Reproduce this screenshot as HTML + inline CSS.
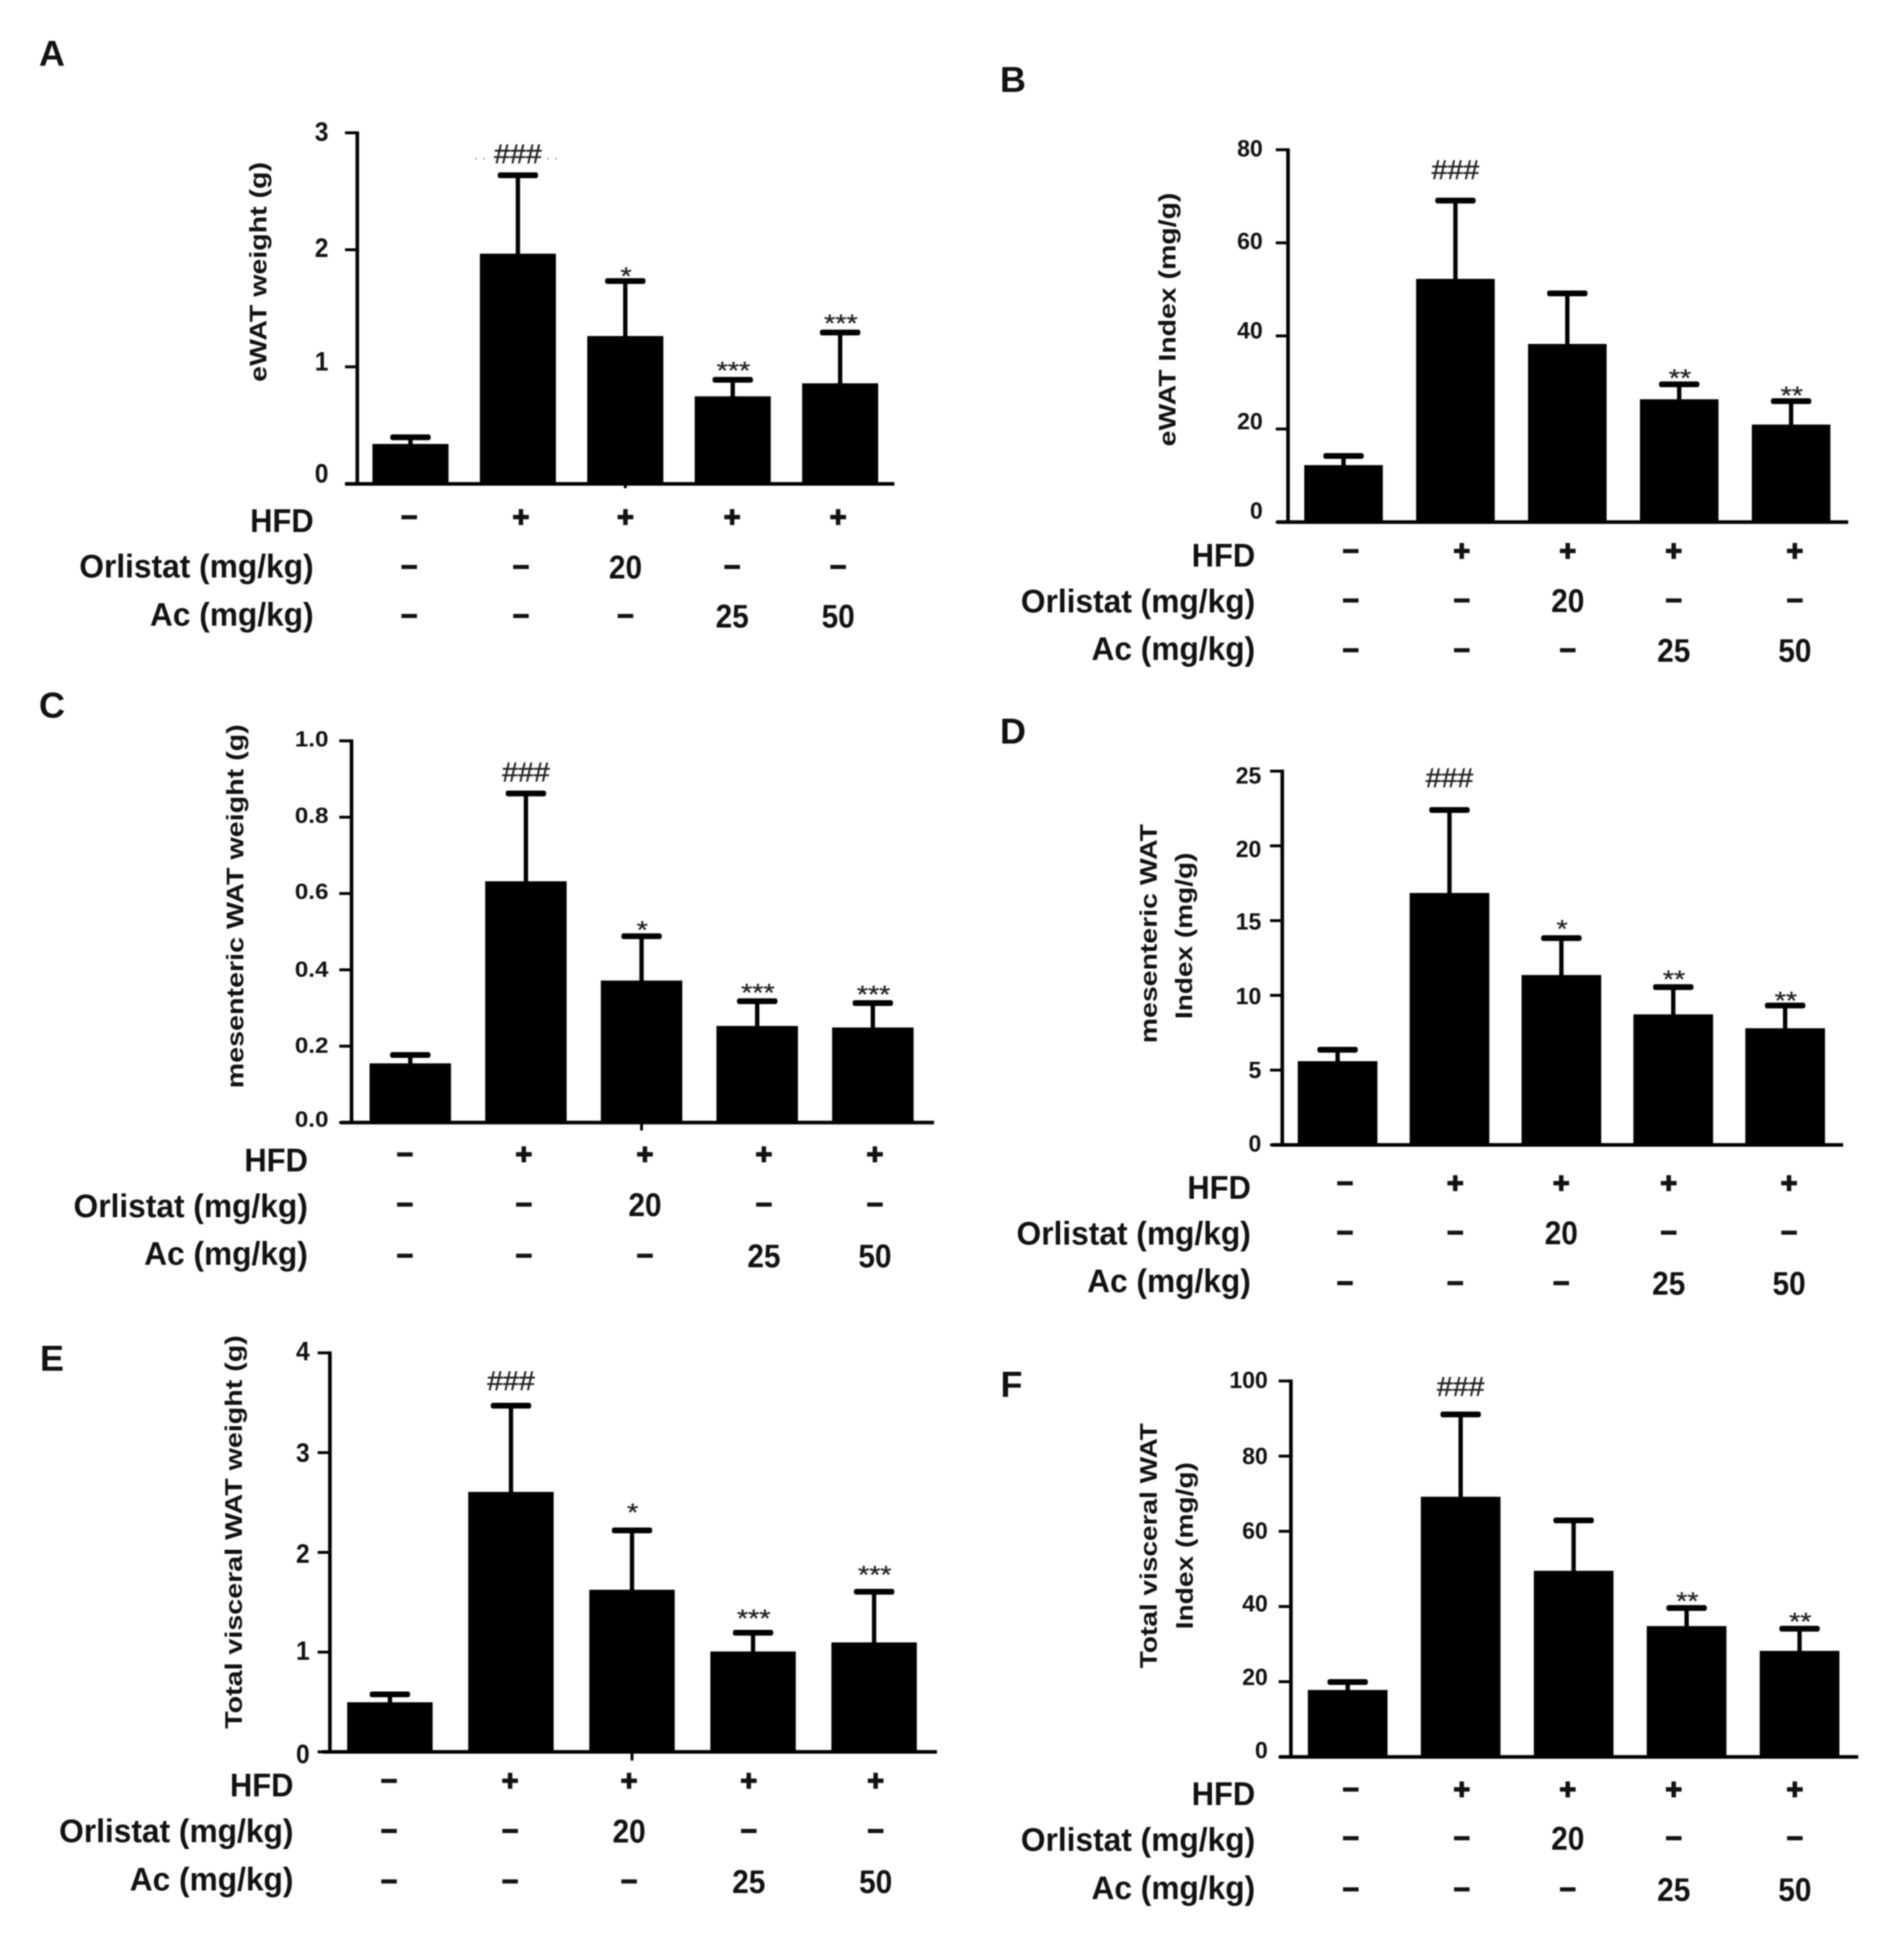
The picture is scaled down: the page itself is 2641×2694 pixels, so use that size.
<!DOCTYPE html>
<html lang="en">
<head>
<meta charset="utf-8">
<title>WAT weight and index bar charts</title>
<style>
html,body{margin:0;padding:0;background:#fff;}
#figure{display:block;width:2641px;height:2694px;filter:blur(0.7px);}
text{font-family:"Liberation Sans",Arial,sans-serif;fill:#111;}
</style>
</head>
<body>
<svg id="figure" xmlns="http://www.w3.org/2000/svg" width="2641" height="2694" viewBox="0 0 2641 2694"></svg>
<script>
const rowHfd = ['–', '+', '+', '+', '+'];
const rowOrlistat = ['–', '–', '20', '–', '–'];
const rowAc = ['–', '–', '–', '25', '50'];

const panelAValues = [0.341, 1.967, 1.263, 0.748, 0.859];
const panelAErrors = [0.398, 2.637, 1.733, 0.889, 1.293];
const panelATicks = ['0', '1', '2', '3'];
const panelASig = ['', '###', '*', '***', '***'];

const panelBValues = [12.23, 52.25, 38.26, 26.38, 20.94];
const panelBErrors = [14.2, 69.07, 49.13, 29.6, 25.98];
const panelBTicks = ['0', '20', '40', '60', '80'];
const panelBSig = ['', '###', '', '**', '**'];

const panelCValues = [0.155, 0.632, 0.372, 0.253, 0.249];
const panelCErrors = [0.177, 0.862, 0.488, 0.318, 0.313];
const panelCTicks = ['0.0', '0.2', '0.4', '0.6', '0.8', '1.0'];
const panelCSig = ['', '###', '*', '***', '***'];

const panelDValues = [5.6, 16.85, 11.36, 8.73, 7.8];
const panelDErrors = [6.36, 22.4, 13.83, 10.55, 9.32];
const panelDTicks = ['0', '5', '10', '15', '20', '25'];
const panelDSig = ['', '###', '*', '**', '**'];

const panelEValues = [0.497, 2.606, 1.625, 1.006, 1.097];
const panelEErrors = [0.576, 3.47, 2.22, 1.194, 1.605];
const panelETicks = ['0', '1', '2', '3', '4'];
const panelESig = ['', '###', '*', '***', '***'];

const panelFValues = [17.8, 69.2, 49.5, 34.8, 28.2];
const panelFErrors = [19.9, 91.1, 62.9, 39.6, 34.1];
const panelFTicks = ['0', '20', '40', '60', '80', '100'];
const panelFSig = ['', '###', '', '**', '**'];

const panels = [
  {id:'a', letter:'A', values:panelAValues, errors:panelAErrors, ticks:panelATicks, sig:panelASig,
   titles:[{t:'eWAT weight (g)', x:362, y:380, w:305}]},
  {id:'b', letter:'B', values:panelBValues, errors:panelBErrors, ticks:panelBTicks, sig:panelBSig,
   titles:[{t:'eWAT Index (mg/g)', x:1623, y:446, w:352}]},
  {id:'c', letter:'C', values:panelCValues, errors:panelCErrors, ticks:panelCTicks, sig:panelCSig,
   titles:[{t:'mesenteric WAT weight (g)', x:330, y:1260, w:505}]},
  {id:'d', letter:'D', values:panelDValues, errors:panelDErrors, ticks:panelDTicks, sig:panelDSig,
   titles:[{t:'mesenteric WAT', x:1597, y:1298, w:304},{t:'Index (mg/g)', x:1646, y:1301, w:231}]},
  {id:'e', letter:'E', values:panelEValues, errors:panelEErrors, ticks:panelETicks, sig:panelESig,
   titles:[{t:'Total visceral WAT weight (g)', x:328, y:2128, w:546}]},
  {id:'f', letter:'F', values:panelFValues, errors:panelFErrors, ticks:panelFTicks, sig:panelFSig,
   titles:[{t:'Total visceral WAT', x:1597, y:2147, w:340},{t:'Index (mg/g)', x:1647, y:2147, w:232}]}
];

const layouts = {
  a:{axisX:499,top:187,bottom:674,axisStart:482,axisEnd:1244,barLeft:520,barStep:149,barW:105.5,
     rowX:[571,726,871,1019,1166],rowY:[720,789,857],labelY:[726,789,856],labelRight:435,
     tickRight:457,tickSize:37,tickStretch:0.92,tickShift:[-15,-8,-3.3,-2],
     sigGap:[0,30,15,21,21],xTick:6,letterX:72,letterY:75},
  b:{axisX:1790,top:210.5,bottom:727,axisStart:1775,axisEnd:2567,barLeft:1812.5,barStep:155.2,barW:109,
     rowX:[1877,2031,2178,2325,2493],rowY:[767,835.5,904.5],labelY:[774,837.5,903.5],labelRight:1741,
     tickRight:1753,tickSize:32,tickStretch:1.0,tickShift:[-16,-11,-8,-3,-2],
     sigGap:[0,43,0,17,16],xTick:0,letterX:1405,letterY:111},
  c:{axisX:491,top:1030.5,bottom:1560,axisStart:476,axisEnd:1299,barLeft:516,barStep:160.4,barW:113,
     rowX:[565,730,898,1063,1217],rowY:[1604,1673.5,1744.5],labelY:[1613,1676.5,1742.5],labelRight:427,
     tickRight:457,tickSize:31,tickStretch:1.08,tickShift:[-5.5,-2,-1.7,-3.4,-3,-3.5],
     sigGap:[0,30,17,20,20],xTick:11,letterX:72,letterY:979},
  d:{axisX:1782,top:1072.5,bottom:1591,axisStart:1768,axisEnd:2560,barLeft:1803.5,barStep:155.2,barW:110.5,
     rowX:[1869,2022,2169,2318,2485],rowY:[1644,1712.5,1782.5],labelY:[1651,1714.5,1780.5],labelRight:1735,
     tickRight:1751,tickSize:32,tickStretch:1.0,tickShift:[-2,-0.7,0.6,0.9,4,6],
     sigGap:[0,45,21,19,15],xTick:0,letterX:1405,letterY:1015},
  e:{axisX:461,top:1879.5,bottom:2433,axisStart:450,axisEnd:1303,barLeft:485,barStep:167.9,barW:118.5,
     rowX:[543,711,876,1042,1218],rowY:[2473,2542.5,2612.5],labelY:[2480,2543.5,2610.5],labelRight:407,
     tickRight:431,tickSize:37,tickStretch:0.92,tickShift:[2.5,-2.6,1.2,-0.2,-3],
     sigGap:[0,35,33,28,32],xTick:12,letterX:72,letterY:1885},
  f:{axisX:1794,top:1918.5,bottom:2440,axisStart:1778,axisEnd:2581,barLeft:1817.5,barStep:156.7,barW:110.5,
     rowX:[1877,2031,2178,2325,2493],rowY:[2485,2552.5,2623.5],labelY:[2492,2555.5,2622.5],labelRight:1741,
     tickRight:1760,tickSize:32,tickStretch:1.0,tickShift:[-9.7,-7,-4.7,-1.1,-0.4,-1.5],
     sigGap:[0,39,0,18,18],xTick:0,letterX:1403,letterY:1921}
};

const rowLabels = [
  {t:'HFD', w:88, key:'hfd'},
  {t:'Orlistat (mg/kg)', w:325, key:'orlistat'},
  {t:'Ac (mg/kg)', w:227, key:'ac'}
];
const rows = [rowHfd, rowOrlistat, rowAc];

const NS = 'http://www.w3.org/2000/svg';
const figure = document.getElementById('figure');
const shiftX = -3.4;
const shiftY = -2.8;

function make(tag, attrs, parent, text) {
  const node = document.createElementNS(NS, tag);
  for (const k in attrs) node.setAttribute(k, attrs[k]);
  if (text !== undefined) node.textContent = text;
  parent.appendChild(node);
  return node;
}

function tickWidth(label, size, stretch) {
  let u = 0;
  for (const ch of label) u += ch === '.' ? 0.278 : 0.556;
  return u * size * stretch;
}

panels.forEach(function (p) {
  const L = layouts[p.id];
  const tickNums = p.ticks.map(parseFloat);
  const maxTick = Math.max.apply(null, tickNums);
  const yScale = function (v) { return L.bottom - (v / maxTick) * (L.bottom - L.top); };
  const xScale = function (i) { return L.barLeft + i * L.barStep; };

  const g = make('g', {transform:'translate(' + shiftX + ' ' + shiftY + ')'}, figure);
  
  

  const letter = make('text', {x:L.letterX - shiftX, y:L.letterY + 18 - shiftY - 1.5, 'font-size':50, 'font-weight':'bold', 'text-anchor':'middle'}, g, p.letter);
  
  

  p.titles.forEach(function (tt, idx) {
    const title = make('text', {
      transform:'translate(' + (tt.x + 11) + ' ' + tt.y + ') rotate(-90)',
      'font-size':33, 'font-weight':'bold', 'text-anchor':'middle',
      textLength:tt.w, lengthAdjust:'spacingAndGlyphs'
    }, g, tt.t);
    
    
  });

  p.values.forEach(function (v, i) {
    const left = xScale(i);
    const cx = left + L.barW / 2;
    const errY = yScale(p.errors[i]);

    const stem = make('rect', {x:cx - 3, y:errY, width:6, height:yScale(v) - errY + 2, fill:'#000'}, g);
    
    

    const cap = make('rect', {x:cx - 28, y:errY - 4, width:56, height:8, rx:3, fill:'#000'}, g);
    
    

    const bar = make('rect', {x:left, y:yScale(v), width:L.barW, height:L.bottom - yScale(v), fill:'#000'}, g);
    
    

    if (p.sig[i]) {
      const isHash = p.sig[i].charAt(0) === '#';
      const size = isHash ? 38 : 34;
      const centerY = errY - L.sigGap[i];
      const sig = make('text', {
        x:cx + (isHash ? 0 : 1),
        y:centerY + (isHash ? 0.35 : 0.58) * size,
        'font-size':size, 'text-anchor':'middle',
        style:'fill:#222;stroke:#222;stroke-width:' + (isHash ? 0.6 : 0.4),
        textLength:isHash ? 66 : p.sig[i].length * 15.5,
        lengthAdjust:'spacingAndGlyphs'
      }, g, p.sig[i]);
      
      
    }
  });

  const yAxis = make('line', {x1:L.axisX, x2:L.axisX, y1:L.top - 2, y2:L.bottom, stroke:'#000', 'stroke-width':5}, g);
  
  

  const xAxis = make('line', {x1:L.axisStart, x2:L.axisEnd, y1:L.bottom, y2:L.bottom, stroke:'#000', 'stroke-width':5}, g);
  
  

  if (L.xTick) {
    const cx3 = xScale(2) + L.barW / 2;
    const xTick = make('line', {x1:cx3, x2:cx3, y1:L.bottom, y2:L.bottom + L.xTick, stroke:'#000', 'stroke-width':4}, g);
    
    
  }

  p.ticks.forEach(function (label, i) {
    const y = yScale(tickNums[i]);
    const mark = make('line', {x1:L.axisX - 17, x2:L.axisX, y1:y, y2:y, stroke:'#000', 'stroke-width':4}, g);
    
    

    const tickText = make('text', {
      x:L.tickRight + 2, y:y + L.tickShift[i] + L.tickSize * 0.36,
      'font-size':L.tickSize, 'font-weight':'bold', 'text-anchor':'end',
      textLength:tickWidth(label, L.tickSize, L.tickStretch), lengthAdjust:'spacingAndGlyphs'
    }, g, label);
    
    
  });

  rowLabels.forEach(function (r, ri) {
    const rowText = make('text', {
      x:L.labelRight - shiftX, y:L.labelY[ri] + 15,
      'font-size':45, 'font-weight':'bold', 'text-anchor':'end',
      textLength:r.w, lengthAdjust:'spacingAndGlyphs'
    }, g, r.t);
    
    

    rows[ri].forEach(function (sym, i) {
      const isNum = sym !== '+' && sym !== '–';
      const size = isNum ? 45 : 40;
      const shift = sym === '+' ? 0.33 * size : sym === '–' ? 0.27 * size : 0.36 * size;
      const attrs = {
        x:L.rowX[i], y:L.rowY[ri] + shift,
        'font-size':size, 'font-weight':'bold', 'text-anchor':'middle'
      };
      if (isNum) {
        attrs.textLength = 46;
        attrs.lengthAdjust = 'spacingAndGlyphs';
      } else {
        attrs.style = 'stroke:#111;stroke-width:1.8';
      }
      const cell = make('text', attrs, g, sym);
      
      
    });
  });

  if (p.id === 'a') {
    const dotsLeft = make('text', {x:661, y:224, 'font-size':18, 'letter-spacing':6, style:'fill:#777'}, g, '..');
    
    

    const dotsRight = make('text', {x:761, y:224, 'font-size':18, 'letter-spacing':6, style:'fill:#777'}, g, '..');
    
    
  }
});
</script>
</body>
</html>
